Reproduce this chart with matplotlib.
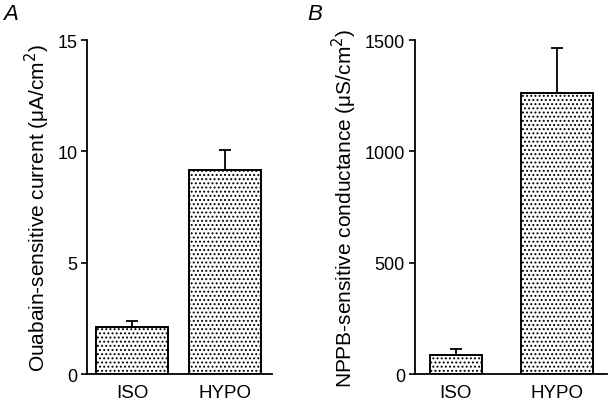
import matplotlib
matplotlib.use("Agg")
import matplotlib.pyplot as plt

plt.rcParams["font.family"] = ["Liberation Sans", "DejaVu Sans"]
plt.rcParams["hatch.color"] = "#777777"
plt.rcParams["hatch.linewidth"] = 0.9

categories = ["ISO", "HYPO"]
current_mean = [2.1, 9.15]
current_err = [0.28, 0.92]
conductance_mean = [85, 1260]
conductance_err = [30, 205]

fig = plt.figure(figsize=(6.09, 4.06), dpi=100)


def _panel(rect, means, errs, ylim, yticks, ylabel, xpos, widths):
    ax = fig.add_axes(rect)
    ax.bar(xpos, means, width=widths, color="white", edgecolor="black",
           linewidth=1.4, hatch="....", zorder=2)
    ax.errorbar(xpos, means, yerr=[[0, 0], errs], fmt="none", ecolor="black",
                elinewidth=1.3, capsize=4, capthick=1.3, zorder=3)
    ax.set_xlim(0, 1)
    ax.set_ylim(*ylim)
    ax.set_yticks(yticks)
    ax.set_xticks(xpos)
    ax.set_xticklabels(categories, fontsize=13.5)
    ax.tick_params(axis="x", length=0, pad=7)
    ax.tick_params(axis="y", direction="out", length=4, width=1.2,
                   labelsize=13, pad=3)
    for side in ("top", "right"):
        ax.spines[side].set_visible(False)
    for side in ("left", "bottom"):
        ax.spines[side].set_linewidth(1.3)
    ax.set_ylabel(ylabel, fontsize=15, labelpad=4)
    return ax


_panel([0.143, 0.076, 0.304, 0.823], current_mean, current_err, (0, 15),
       [0, 5, 10, 15], "Ouabain-sensitive current (\u03bcA/cm$^2$)",
       [0.243, 0.746], [0.389, 0.389])
_panel([0.681, 0.076, 0.316, 0.823], conductance_mean, conductance_err,
       (0, 1500), [0, 500, 1000, 1500],
       "NPPB-sensitive conductance (\u03bcS/cm$^2$)",
       [0.214, 0.74], [0.27, 0.375])

fig.text(0.005, 0.99, "A", fontsize=16, style="italic", va="top")
fig.text(0.505, 0.99, "B", fontsize=16, style="italic", va="top")

fig.savefig("out.png", dpi=100)
